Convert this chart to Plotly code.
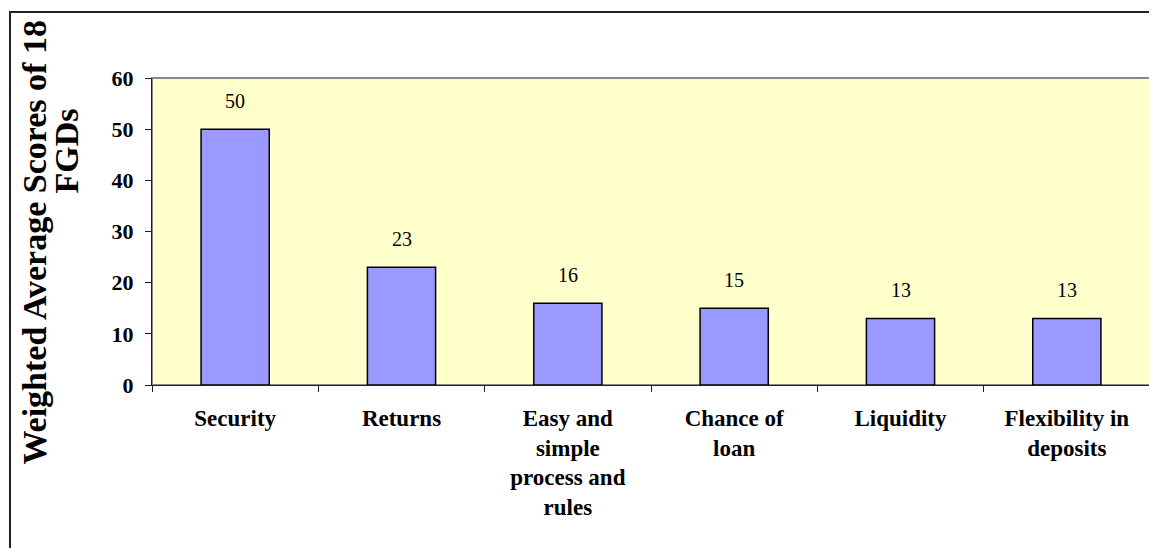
import plotly.graph_objects as go

CATEGORIES = [
    "Security",
    "Returns",
    "Easy and<br>simple<br>process and<br>rules",
    "Chance of<br>loan",
    "Liquidity",
    "Flexibility in<br>deposits",
]
SCORES = [50, 23, 16, 15, 13, 13]
Y_TICKS = [0, 10, 20, 30, 40, 50, 60]
Y_TITLE_LINES = ["Weighted Average Scores of 18", "FGDs"]

SERIF = "Liberation Serif, Times New Roman, serif"

fig = go.Figure()

fig.add_trace(
    go.Bar(
        x=CATEGORIES,
        y=SCORES,
        marker=dict(color="#9999FF", line=dict(color="black", width=1.5)),
        hoverinfo="x+y",
    )
)

# value labels sit a fair distance above each bar, like the Excel original
for cat, val in zip(CATEGORIES, SCORES):
    fig.add_annotation(
        x=cat,
        y=val,
        text=str(val),
        showarrow=False,
        yanchor="bottom",
        yshift=15,
        font=dict(family=SERIF, size=20, color="black"),
    )

# rotated y title, two lines placed separately
title_pos = [(-0.1187, 0.4625), (-0.0857, 0.762)]
for line, (px, py) in zip(Y_TITLE_LINES, title_pos):
    fig.add_annotation(
        x=px, y=py, xref="paper", yref="paper",
        xanchor="center", yanchor="middle",
        text="<b>%s</b>" % line, textangle=-90, showarrow=False,
        font=dict(family=SERIF, size=34, color="black"),
    )

# grey frame on the plot area, dark outer border of the chart
fig.add_shape(
    type="rect", xref="paper", yref="paper", x0=0, x1=1, y0=0, y1=1,
    line=dict(color="#888888", width=2), layer="below",
)
fig.add_shape(
    type="rect", xref="paper", yref="paper", x0=-0.1423, x1=1.2, y0=-1, y1=1.215,
    line=dict(color="#222222", width=2),
)

fig.update_xaxes(
    showline=True, linecolor="#222222", linewidth=1,
    ticks="outside", tickson="boundaries", ticklen=6, tickcolor="#222222",
    tickfont=dict(family=SERIF, size=23, color="black", weight="bold"),
    ticklabelstandoff=12,
    showgrid=False,
)
fig.update_yaxes(
    range=[0, 60], tickvals=Y_TICKS,
    showline=True, linecolor="#222222", linewidth=1,
    ticks="outside", ticklen=6, tickcolor="#222222",
    tickfont=dict(family=SERIF, size=22, color="black", weight="bold"),
    ticklabelstandoff=7,
    showgrid=False, zeroline=False,
)

# the page body keeps its default 8px margin, so the figure is 8px smaller
fig.update_layout(
    width=1149,
    height=540,
    margin=dict(l=144, r=7, t=70, b=163),
    plot_bgcolor="#FFFFCC",
    paper_bgcolor="white",
    bargap=0.59,
    showlegend=False,
)

fig.write_html("out.html")
